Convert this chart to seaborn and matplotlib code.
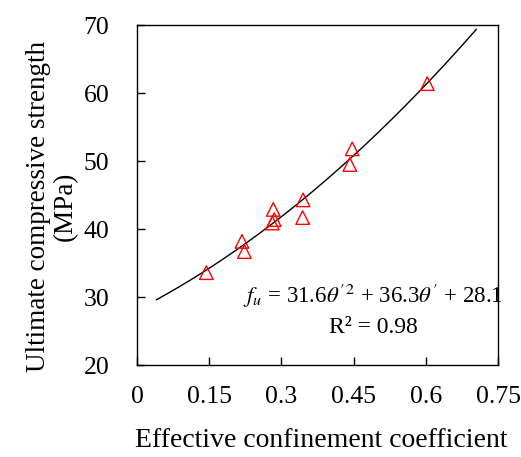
import numpy as np
import pandas as pd
import seaborn as sns
import matplotlib.pyplot as plt

# measured points
theta = [0.144, 0.218, 0.223, 0.283, 0.285, 0.281, 0.345, 0.344, 0.442, 0.447, 0.603]
strength = [33.6, 38.2, 36.7, 42.9, 41.4, 40.9, 44.3, 41.7, 49.5, 51.8, 61.4]

# fitted quadratic
coef = [31.6, 36.3, 28.1]
fit_range = (0.04, 0.705)

x_ticks = [0, 0.15, 0.3, 0.45, 0.6, 0.75]
x_labels = ["0", "0.15", "0.3", "0.45", "0.6", "0.75"]
y_ticks = [20, 30, 40, 50, 60, 70]

sns.set_theme(style="white")
plt.rcParams["font.family"] = ["Liberation Serif", "DejaVu Serif"]
plt.rcParams["mathtext.fontset"] = "stix"
plt.rcParams["text.color"] = "black"
plt.rcParams["axes.labelcolor"] = "black"

df = pd.DataFrame({"theta": theta, "fu": strength})
xf = np.linspace(fit_range[0], fit_range[1], 200)
fit = pd.DataFrame({"theta": xf, "fu": coef[0] * xf**2 + coef[1] * xf + coef[2]})

fig = plt.figure(figsize=(5.21, 4.57), dpi=100)
ax = fig.add_axes([0.263, 0.201, 0.693, 0.744])

sns.lineplot(data=fit, x="theta", y="fu", color="black", linewidth=1.0, ax=ax)
sns.scatterplot(data=df, x="theta", y="fu", marker="^", s=95,
                facecolor="none", edgecolor="#ff0000", linewidth=1.0, ax=ax, zorder=3)

ax.set_xlim(0, 0.75)
ax.set_ylim(20, 70)
ax.set_xticks(x_ticks)
ax.set_xticklabels(x_labels)
ax.set_yticks(y_ticks)
ax.tick_params(direction="in", length=6, width=1, colors="black",
               labelsize=18.5, bottom=True, left=True)
ax.tick_params(axis="x", pad=15)
ax.tick_params(axis="y", pad=20)
for sp in ax.spines.values():
    sp.set_color("black")
    sp.set_linewidth(1)

ax.set_xlabel("Effective confinement coefficient", fontsize=20)
ax.set_ylabel("Ultimate compressive strength\n(MPa)", fontsize=19.5,
              linespacing=1.1)
ax.xaxis.set_label_coords(0.51, -0.185)
ax.yaxis.set_label_coords(-0.163, 0.466)

ax.text(0.49, 29.2, r"$f_u$ = 31.6$\theta'^{2}$ + 36.3$\theta'$ + 28.1",
        ha="center", va="baseline", fontsize=16.5)
ax.text(0.49, 24.7, "R² = 0.98", ha="center", va="baseline", fontsize=17)

fig.savefig("out.png", dpi=100)
